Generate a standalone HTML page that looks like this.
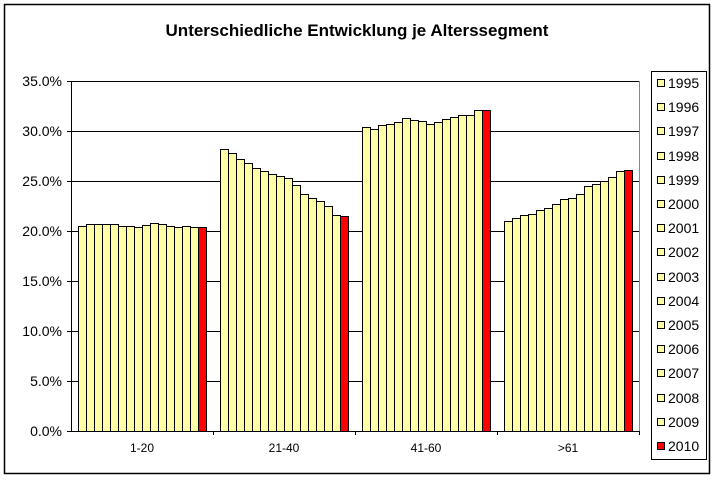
<!DOCTYPE html>
<html><head><meta charset="utf-8"><style>
body{margin:0;background:#fff;}
text{font-family:"Liberation Sans",Arial,sans-serif;}
.y{fill:#ffffa8;stroke:#000;stroke-width:1}
.r{fill:#ff0000;stroke:#000;stroke-width:1}
</style></head><body>
<svg width="715" height="482" xmlns="http://www.w3.org/2000/svg">
<rect x="0" y="0" width="715" height="482" fill="#fff"/>
<rect x="4.5" y="4.5" width="705" height="469" fill="none" stroke="#000" stroke-width="1.5"/>
<text x="357" y="36" font-size="17" font-weight="bold" text-anchor="middle">Unterschiedliche Entwicklung je Alterssegment</text>
<g stroke="#000" stroke-width="1">
<line x1="71" y1="81.5" x2="639" y2="81.5"/>
<line x1="71" y1="131.5" x2="639" y2="131.5"/>
<line x1="71" y1="181.5" x2="639" y2="181.5"/>
<line x1="71" y1="231.5" x2="639" y2="231.5"/>
<line x1="71" y1="281.5" x2="639" y2="281.5"/>
<line x1="71" y1="331.5" x2="639" y2="331.5"/>
<line x1="71" y1="381.5" x2="639" y2="381.5"/>
</g>
<line x1="639.5" y1="81" x2="639.5" y2="431" stroke="#888"/>
<g>
<rect class="y" x="78.5" y="226.5" width="8" height="205"/>
<rect class="y" x="86.5" y="224.5" width="8" height="207"/>
<rect class="y" x="94.5" y="224.5" width="8" height="207"/>
<rect class="y" x="102.5" y="224.5" width="8" height="207"/>
<rect class="y" x="110.5" y="224.5" width="8" height="207"/>
<rect class="y" x="118.5" y="226.5" width="8" height="205"/>
<rect class="y" x="126.5" y="226.5" width="8" height="205"/>
<rect class="y" x="134.5" y="227.5" width="8" height="204"/>
<rect class="y" x="142.5" y="225.5" width="8" height="206"/>
<rect class="y" x="150.5" y="223.5" width="8" height="208"/>
<rect class="y" x="158.5" y="224.5" width="8" height="207"/>
<rect class="y" x="166.5" y="226.5" width="8" height="205"/>
<rect class="y" x="174.5" y="227.5" width="8" height="204"/>
<rect class="y" x="182.5" y="226.5" width="8" height="205"/>
<rect class="y" x="190.5" y="227.5" width="8" height="204"/>
<rect class="r" x="198.5" y="227.5" width="8" height="204"/>

<rect class="y" x="220.5" y="149.5" width="8" height="282"/>
<rect class="y" x="228.5" y="153.5" width="8" height="278"/>
<rect class="y" x="236.5" y="159.5" width="8" height="272"/>
<rect class="y" x="244.5" y="163.5" width="8" height="268"/>
<rect class="y" x="252.5" y="168.5" width="8" height="263"/>
<rect class="y" x="260.5" y="171.5" width="8" height="260"/>
<rect class="y" x="268.5" y="174.5" width="8" height="257"/>
<rect class="y" x="276.5" y="176.5" width="8" height="255"/>
<rect class="y" x="284.5" y="178.5" width="8" height="253"/>
<rect class="y" x="292.5" y="185.5" width="8" height="246"/>
<rect class="y" x="300.5" y="194.5" width="8" height="237"/>
<rect class="y" x="308.5" y="198.5" width="8" height="233"/>
<rect class="y" x="316.5" y="201.5" width="8" height="230"/>
<rect class="y" x="324.5" y="206.5" width="8" height="225"/>
<rect class="y" x="332.5" y="215.5" width="8" height="216"/>
<rect class="r" x="340.5" y="216.5" width="8" height="215"/>

<rect class="y" x="362.5" y="127.5" width="8" height="304"/>
<rect class="y" x="370.5" y="129.5" width="8" height="302"/>
<rect class="y" x="378.5" y="125.5" width="8" height="306"/>
<rect class="y" x="386.5" y="124.5" width="8" height="307"/>
<rect class="y" x="394.5" y="122.5" width="8" height="309"/>
<rect class="y" x="402.5" y="118.5" width="8" height="313"/>
<rect class="y" x="410.5" y="120.5" width="8" height="311"/>
<rect class="y" x="418.5" y="121.5" width="8" height="310"/>
<rect class="y" x="426.5" y="124.5" width="8" height="307"/>
<rect class="y" x="434.5" y="122.5" width="8" height="309"/>
<rect class="y" x="442.5" y="119.5" width="8" height="312"/>
<rect class="y" x="450.5" y="117.5" width="8" height="314"/>
<rect class="y" x="458.5" y="115.5" width="8" height="316"/>
<rect class="y" x="466.5" y="115.5" width="8" height="316"/>
<rect class="y" x="474.5" y="110.5" width="8" height="321"/>
<rect class="r" x="482.5" y="110.5" width="8" height="321"/>

<rect class="y" x="504.5" y="221.5" width="8" height="210"/>
<rect class="y" x="512.5" y="218.5" width="8" height="213"/>
<rect class="y" x="520.5" y="215.5" width="8" height="216"/>
<rect class="y" x="528.5" y="214.5" width="8" height="217"/>
<rect class="y" x="536.5" y="210.5" width="8" height="221"/>
<rect class="y" x="544.5" y="208.5" width="8" height="223"/>
<rect class="y" x="552.5" y="204.5" width="8" height="227"/>
<rect class="y" x="560.5" y="199.5" width="8" height="232"/>
<rect class="y" x="568.5" y="198.5" width="8" height="233"/>
<rect class="y" x="576.5" y="194.5" width="8" height="237"/>
<rect class="y" x="584.5" y="186.5" width="8" height="245"/>
<rect class="y" x="592.5" y="184.5" width="8" height="247"/>
<rect class="y" x="600.5" y="181.5" width="8" height="250"/>
<rect class="y" x="608.5" y="177.5" width="8" height="254"/>
<rect class="y" x="616.5" y="171.5" width="8" height="260"/>
<rect class="r" x="624.5" y="170.5" width="8" height="261"/>
</g>
<line x1="71.5" y1="81" x2="71.5" y2="431" stroke="#000"/>
<line x1="71" y1="431.5" x2="639" y2="431.5" stroke="#000"/>
<g stroke="#000">
<line x1="67" x2="71" y1="81.5" y2="81.5"/><line x1="67" x2="71" y1="131.5" y2="131.5"/><line x1="67" x2="71" y1="181.5" y2="181.5"/><line x1="67" x2="71" y1="231.5" y2="231.5"/><line x1="67" x2="71" y1="281.5" y2="281.5"/><line x1="67" x2="71" y1="331.5" y2="331.5"/><line x1="67" x2="71" y1="381.5" y2="381.5"/><line x1="67" x2="71" y1="431.5" y2="431.5"/>
<line x1="213.5" x2="213.5" y1="431" y2="435"/><line x1="355.5" x2="355.5" y1="431" y2="435"/><line x1="497.5" x2="497.5" y1="431" y2="435"/><line x1="639.5" x2="639.5" y1="431" y2="435"/>
</g>
<g font-size="14" text-anchor="end">
<text x="62" y="86">35.0%</text><text x="62" y="136">30.0%</text><text x="62" y="186">25.0%</text><text x="62" y="236">20.0%</text><text x="62" y="286">15.0%</text><text x="62" y="336">10.0%</text><text x="62" y="386">5.0%</text><text x="62" y="436">0.0%</text>
</g>
<g font-size="12" text-anchor="middle">
<text x="142" y="452">1-20</text><text x="284" y="452">21-40</text><text x="426" y="452">41-60</text><text x="568" y="452">&gt;61</text>
</g>
<rect x="651.5" y="71.5" width="55" height="388" fill="#fff" stroke="#000"/>
<g font-size="14">
<rect class="y" x="657.5" y="79.5" width="7" height="7"/><text x="668" y="88">1995</text>
<rect class="y" x="657.5" y="103.5" width="7" height="7"/><text x="668" y="112">1996</text>
<rect class="y" x="657.5" y="127.5" width="7" height="7"/><text x="668" y="136">1997</text>
<rect class="y" x="657.5" y="152.5" width="7" height="7"/><text x="668" y="161">1998</text>
<rect class="y" x="657.5" y="176.5" width="7" height="7"/><text x="668" y="185">1999</text>
<rect class="y" x="657.5" y="200.5" width="7" height="7"/><text x="668" y="209">2000</text>
<rect class="y" x="657.5" y="224.5" width="7" height="7"/><text x="668" y="233">2001</text>
<rect class="y" x="657.5" y="248.5" width="7" height="7"/><text x="668" y="257">2002</text>
<rect class="y" x="657.5" y="273.5" width="7" height="7"/><text x="668" y="282">2003</text>
<rect class="y" x="657.5" y="297.5" width="7" height="7"/><text x="668" y="306">2004</text>
<rect class="y" x="657.5" y="321.5" width="7" height="7"/><text x="668" y="330">2005</text>
<rect class="y" x="657.5" y="345.5" width="7" height="7"/><text x="668" y="354">2006</text>
<rect class="y" x="657.5" y="369.5" width="7" height="7"/><text x="668" y="378">2007</text>
<rect class="y" x="657.5" y="394.5" width="7" height="7"/><text x="668" y="403">2008</text>
<rect class="y" x="657.5" y="418.5" width="7" height="7"/><text x="668" y="427">2009</text>
<rect class="r" x="657.5" y="442.5" width="7" height="7"/><text x="668" y="451">2010</text>
</g>
</svg>
</body></html>
